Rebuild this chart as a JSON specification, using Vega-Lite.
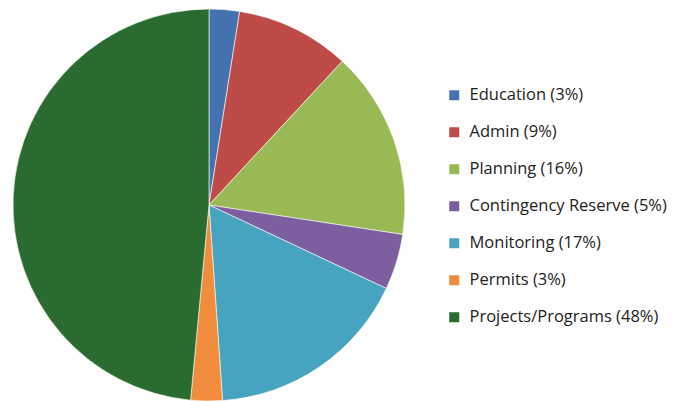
{
  "$schema": "https://vega.github.io/schema/vega-lite/v6.json",
  "width": 418,
  "height": 410,
  "padding": {"left": 0, "top": 0, "right": 263, "bottom": 0},
  "autosize": {"type": "none"},
  "background": "white",
  "view": {"stroke": null},
  "data": {
    "values": [
      {"category": "Education (3%)", "value": 2.5, "order": 1},
      {"category": "Admin (9%)", "value": 9.4, "order": 2},
      {"category": "Planning (16%)", "value": 15.5, "order": 3},
      {"category": "Contingency Reserve (5%)", "value": 4.6, "order": 4},
      {"category": "Monitoring (17%)", "value": 16.9, "order": 5},
      {"category": "Permits (3%)", "value": 2.6, "order": 6},
      {"category": "Projects/Programs (48%)", "value": 48.5, "order": 7}
    ]
  },
  "mark": {"type": "arc", "radius": 196, "stroke": "white", "strokeWidth": 0.6},
  "encoding": {
    "theta": {"field": "value", "type": "quantitative", "stack": true},
    "order": {"field": "order", "type": "quantitative"},
    "color": {
      "field": "category",
      "type": "nominal",
      "scale": {
        "domain": ["Education (3%)", "Admin (9%)", "Planning (16%)", "Contingency Reserve (5%)", "Monitoring (17%)", "Permits (3%)", "Projects/Programs (48%)"],
        "range": ["#4472B0", "#BE4B48", "#98B954", "#7D5FA0", "#46A4C0", "#F08C3C", "#2A6B30"]
      },
      "legend": {
        "title": null,
        "orient": "none",
        "legendX": 446,
        "legendY": 87,
        "symbolType": "square",
        "symbolSize": 100,
        "symbolStrokeWidth": 0,
        "labelFont": "Open Sans",
        "labelFontSize": 16.5,
        "labelColor": "#222222",
        "labelOffset": 7,
        "labelLimit": 300,
        "rowPadding": 20
      }
    }
  }
}
